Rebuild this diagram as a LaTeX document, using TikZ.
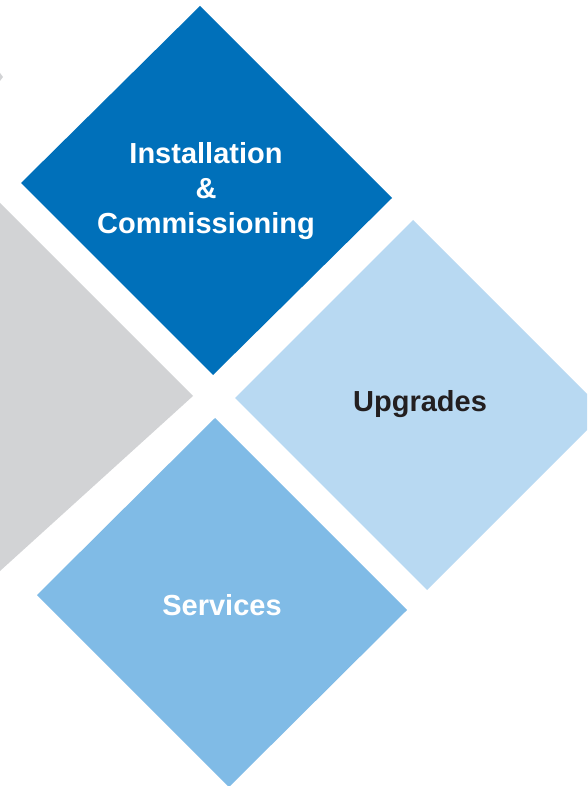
\documentclass[tikz,border=0pt]{standalone}
\usepackage{fontspec}
\setmainfont{Liberation Sans}
\definecolor{darkblue}{HTML}{0070BA}
\definecolor{midblue}{HTML}{80BBE6}
\definecolor{lightblue}{HTML}{B8D9F2}
\definecolor{greyfill}{HTML}{D2D3D5}
\definecolor{darktext}{HTML}{231F20}
\begin{document}
\begin{tikzpicture}[x=1pt,y=-1pt,
  label/.style={font=\fontsize{29}{35}\selectfont\bfseries, align=center, inner sep=0pt}]
\useasboundingbox (0,0) rectangle (587,786);
\clip (0,0) rectangle (587,786);
% grey shape on the left
\fill[greyfill] (0,203) -- (193,396) -- (0,571) -- cycle;
\fill[greyfill] (0,73) -- (3,77) -- (0,81) -- cycle;
% top diamond
\fill[darkblue] (200,6) -- (392,198) -- (213,375) -- (21,183) -- cycle;
% right diamond
\fill[lightblue] (413,220) -- (605,412) -- (427,590) -- (235,398) -- cycle;
% bottom diamond
\fill[midblue] (215,418) -- (407,610) -- (229,787) -- (37,595) -- cycle;
% texts
\node[label, text=white] (install) at (206,191) {Installation\\\&\\Commissioning};
\node[label, text=darktext] (upgrades) at (420,404) {Upgrades};
\node[label, text=white] (services) at (222,605) {Services};
\end{tikzpicture}
\end{document}
